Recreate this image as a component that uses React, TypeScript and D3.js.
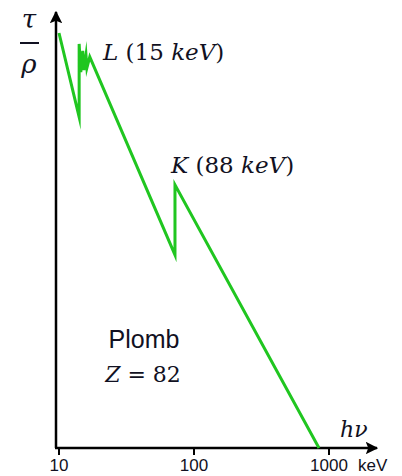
import React from "react";
import * as d3 from "d3";

// Photoelectric mass attenuation of lead (schematic): energy in keV, τ/ρ in arbitrary units
const energies = [10, 14.1, 14.1, 14.5, 15.0, 15.3, 15.85, 16.1, 16.9, 72.3, 72.3, 843];
const tauRho = [95.4, 76.1, 92.9, 86.4, 91.3, 86.9, 90.3, 87.4, 89.9, 44.4, 60.5, 0];

const tickValues = [10, 100, 1000];
const tickLabels = ["10", "100", "1000"];

const W = 402;
const H = 476;

const mathFont = "'DejaVu Serif', 'Liberation Serif', serif";
const sansFont = "'Liberation Sans', Arial, sans-serif";
const ink = "#111122";

export default function App() {
  const x = d3.scaleLog().domain([10, 1000]).range([59, 329]);
  const y = d3.scaleLinear().domain([0, 100]).range([448, 13]);
  const axisX = 56;
  const axisY = y(0);

  const pts: [number, number][] = energies.map((e, i) => [e, tauRho[i]]);
  const line = d3
    .line<[number, number]>()
    .x((d) => x(d[0]))
    .y((d) => y(d[1]));

  return (
    <svg
      width={W}
      height={H}
      style={{ position: "absolute", left: 0, top: 0, background: "#fff" }}
    >
      <defs>
        <marker id="arrow" viewBox="0 0 10 10" refX="9" refY="5" markerWidth="5" markerHeight="5" orient="auto">
          <path d="M0,0 L10,5 L0,10 L2,5 z" fill="#000" />
        </marker>
      </defs>

      {/* axes */}
      <line x1={axisX} y1={axisY} x2={axisX} y2={12} stroke="#000" strokeWidth={2.5} markerEnd="url(#arrow)" />
      <line x1={axisX - 1} y1={axisY} x2={377} y2={axisY} stroke="#000" strokeWidth={2.5} markerEnd="url(#arrow)" />

      {tickValues.map((v, i) => (
        <g key={v}>
          <line x1={x(v)} x2={x(v)} y1={axisY} y2={axisY + 7} stroke="#000" strokeWidth={2} />
          <text x={x(v)} y={471} textAnchor="middle" fontFamily={sansFont} fontSize={17} fill={ink}>
            {tickLabels[i]}
          </text>
        </g>
      ))}
      <text x={358} y={471} fontFamily={sansFont} fontSize={17} fill={ink}>
        keV
      </text>

      {/* curve */}
      <path d={line(pts) || ""} fill="none" stroke="#20c620" strokeWidth={3} strokeLinejoin="miter" strokeMiterlimit={10} />

      {/* y label: τ / ρ */}
      <text x={29} y={28} textAnchor="middle" fontFamily={mathFont} fontStyle="italic" fontSize={26} fill={ink}>
        τ
      </text>
      <line x1={20} x2={39} y1={43} y2={43} stroke={ink} strokeWidth={2} />
      <text x={29} y={73} textAnchor="middle" fontFamily={mathFont} fontStyle="italic" fontSize={26} fill={ink}>
        ρ
      </text>

      {/* x label */}
      <text x={340} y={437} fontFamily={mathFont} fontStyle="italic" fontSize={22} fill={ink}>
        hν
      </text>

      {/* edge labels */}
      <text x={103} y={60} fontFamily={mathFont} fontSize={23} fill={ink}>
        <tspan fontStyle="italic">L</tspan>
        <tspan> (15 </tspan>
        <tspan fontStyle="italic">keV</tspan>
        <tspan>)</tspan>
      </text>
      <text x={171} y={173} fontFamily={mathFont} fontSize={23} fill={ink}>
        <tspan fontStyle="italic">K</tspan>
        <tspan> (88 </tspan>
        <tspan fontStyle="italic">keV</tspan>
        <tspan>)</tspan>
      </text>

      {/* element */}
      <text x={144} y={348} textAnchor="middle" fontFamily={sansFont} fontSize={25} fill={ink}>
        Plomb
      </text>
      <text x={143} y={382} textAnchor="middle" fontFamily={mathFont} fontSize={22} fill={ink}>
        <tspan fontStyle="italic">Z</tspan>
        <tspan> = 82</tspan>
      </text>
    </svg>
  );
}
